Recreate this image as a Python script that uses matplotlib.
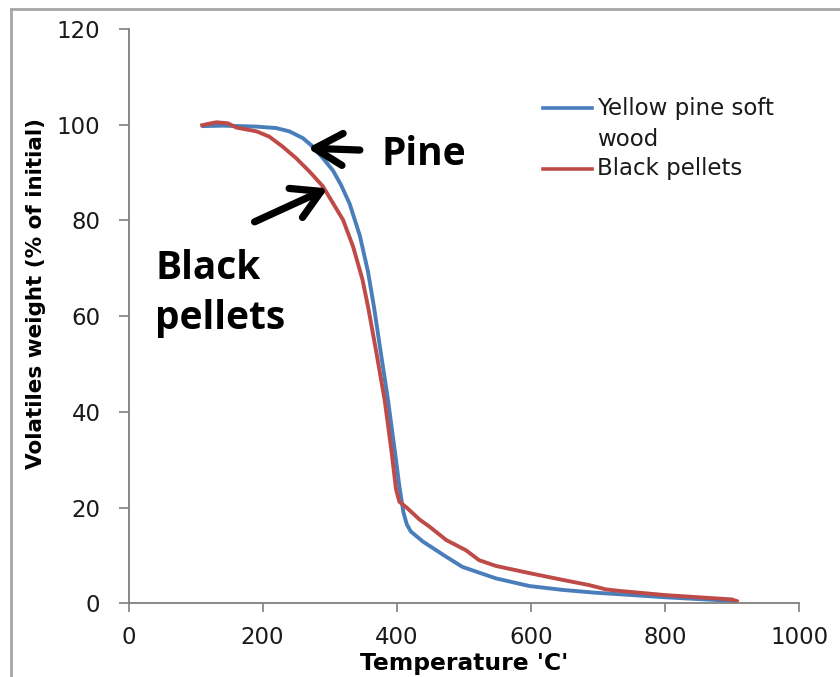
import matplotlib
matplotlib.use("Agg")
import matplotlib.pyplot as plt
from matplotlib.lines import Line2D

# Thermogravimetric curves: remaining volatiles weight vs temperature
pine_temp = [109, 141, 191, 220, 240, 260, 275, 290, 305, 317, 330, 345, 357, 366,
             376, 387, 397, 404, 410, 415, 421, 439, 474, 498, 548, 598, 647, 697, 731,
             801, 900, 908]
pine_weight = [99.7, 99.8, 99.6, 99.3, 98.6, 97.2, 95.4, 93.0, 90.4, 87.4, 83.4, 76.8,
               69.4, 62.0, 52.6, 42.5, 32.0, 24.4, 19.0, 16.5, 15.0, 12.9, 9.7, 7.6, 5.2,
               3.6, 2.8, 2.2, 1.9, 1.25, 0.5, 0.4]

pellet_temp = [107, 120, 131, 148, 161, 191, 210, 230, 250, 270, 290, 302, 320, 335,
               349, 358, 369, 382, 392, 399, 404, 414, 424, 434, 449, 474, 503, 523,
               548, 598, 647, 687, 712, 731, 801, 900, 910]
pellet_weight = [99.8, 100.2, 100.5, 100.3, 99.4, 98.6, 97.5, 95.4, 93.0, 90.2, 87.1,
                 84.3, 80.1, 74.5, 67.6, 61.4, 52.9, 42.5, 32.0, 23.8, 21.2, 20.1, 18.8,
                 17.5, 16.0, 13.2, 11.1, 9.0, 7.8, 6.3, 4.9, 3.8, 2.9, 2.6, 1.7, 0.8, 0.3]

series_labels = ["Yellow pine soft\nwood", "Black pellets"]
series_colors = ["#4a7ebb", "#be4b48"]

x_ticks = [0, 200, 400, 600, 800, 1000]
y_ticks = [0, 20, 40, 60, 80, 100, 120]

fig = plt.figure(figsize=(8.4, 6.77), dpi=100)
ax = fig.add_axes([0.153, 0.1089, 0.7982, 0.8483])

ax.plot(pine_temp, pine_weight, color=series_colors[0], lw=2.8,
        solid_joinstyle="round", solid_capstyle="butt")
ax.plot(pellet_temp, pellet_weight, color=series_colors[1], lw=2.8,
        solid_joinstyle="round", solid_capstyle="butt")

ax.set_xlim(0, 1000)
ax.set_ylim(0, 120)
ax.set_xticks(x_ticks)
ax.set_yticks(y_ticks)

for side in ("top", "right"):
    ax.spines[side].set_visible(False)
for side in ("left", "bottom"):
    ax.spines[side].set_color("#7f7f7f")
    ax.spines[side].set_linewidth(1.3)

ax.tick_params(axis="y", direction="out", length=7.2, width=1.2, color="#7f7f7f",
               pad=13, labelsize=16.5, labelcolor="#1a1a1a")
ax.tick_params(axis="x", direction="out", length=6.7, width=1.2, color="#7f7f7f",
               pad=10, labelsize=16.5, labelcolor="#1a1a1a")
for lab in ax.get_xticklabels() + ax.get_yticklabels():
    lab.set_family("DejaVu Sans")

ax.set_xlabel("Temperature 'C'", family="DejaVu Sans", weight="bold", fontsize=16.8)
ax.xaxis.set_label_coords(0.5, -0.084)
ax.set_ylabel("Volatiles weight (% of initial)", family="DejaVu Sans", weight="bold",
              fontsize=15.5)
ax.yaxis.set_label_coords(-0.123, 0.539)

# Legend drawn as handle lines plus text in axes fraction
legend_rows = [(0.8624, 0.8346), (0.7562, 0.7562)]
for (line_y, text_y), label, color in zip(legend_rows, series_labels, series_colors):
    ax.add_line(Line2D([0.618, 0.691], [line_y, line_y], transform=ax.transAxes,
                       color=color, lw=2.6))
    ax.text(0.699, text_y, label, transform=ax.transAxes, ha="left", va="center",
            family="DejaVu Sans", fontsize=16.5, color="#1a1a1a", linespacing=1.45)

# Callout arrows and labels
arrow_props = dict(arrowstyle="->,head_length=2.0,head_width=1.15", lw=5.2,
                   color="black", shrinkA=0, shrinkB=0, mutation_scale=10)
ax.annotate("", xy=(267, 95.1), xytext=(345, 94.7), arrowprops=arrow_props)
ax.annotate("", xy=(297, 86.7), xytext=(188, 79.7), arrowprops=arrow_props)

ax.text(377, 91.6, "Pine", family="Open Sans", weight="bold", fontsize=28,
        ha="left", va="baseline", color="black")
ax.text(39.5, 57.3, "Black\npellets", family="Open Sans", weight="bold", fontsize=28,
        ha="left", va="baseline", color="black", linespacing=1.36)

# Outer frame edges (top and left)
fig.add_artist(Line2D([0.0127, 1.0], [0.9863, 0.9863], transform=fig.transFigure,
                      color="#a6a6a6", lw=2))
fig.add_artist(Line2D([0.0127, 0.0127], [0.0, 0.9863], transform=fig.transFigure,
                      color="#a6a6a6", lw=2))

fig.savefig("out.png", dpi=100)
